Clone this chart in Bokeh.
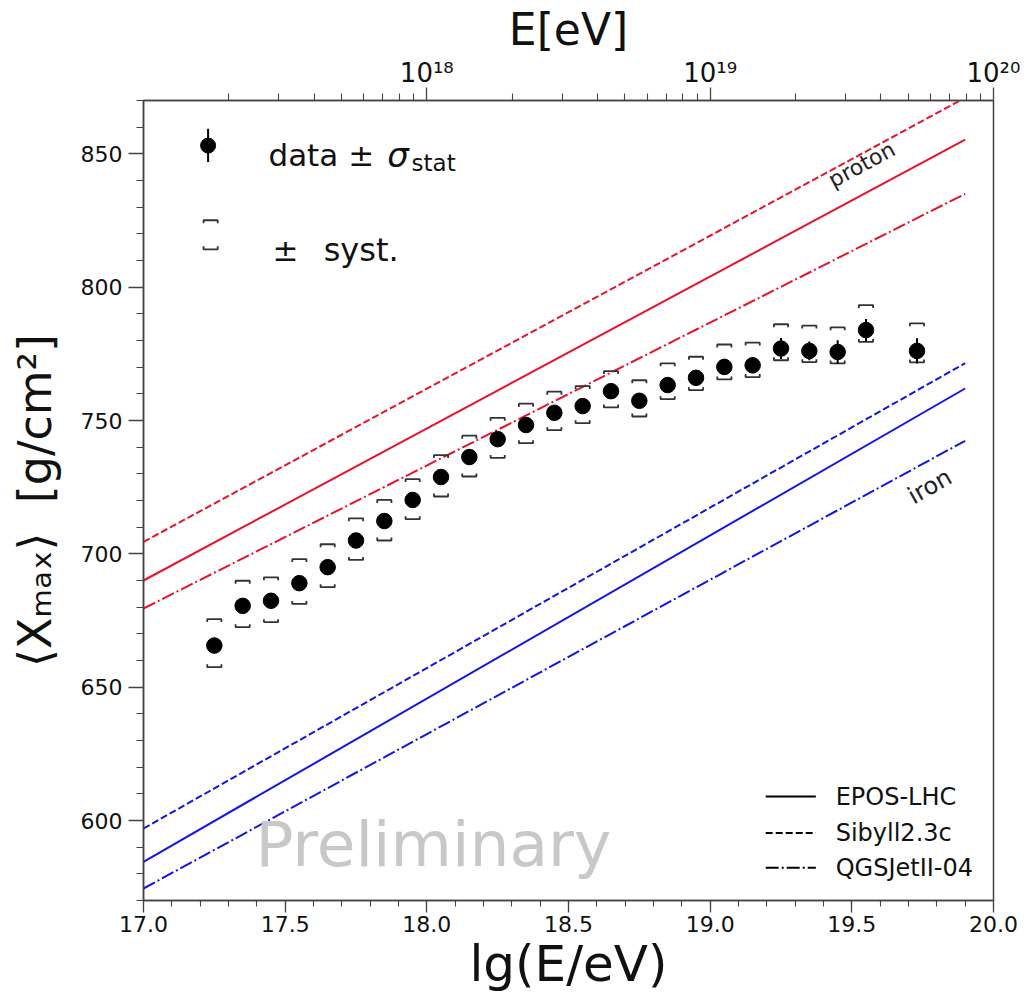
import math
from bokeh.plotting import figure
from bokeh.models import LinearAxis, FixedTicker, PrintfTickFormatter, Range1d
from bokeh.embed import file_html
from bokeh.resources import INLINE
from bokeh.core.properties import value

FONT = "DejaVu Sans"

# ---------------- data ----------------
lgE = [17.25, 17.35, 17.45, 17.55, 17.65, 17.75, 17.85, 17.95, 18.05, 18.15,
       18.25, 18.35, 18.45, 18.55, 18.65, 18.75, 18.85, 18.95, 19.05, 19.15,
       19.25, 19.35, 19.45, 19.55, 19.73]
xmax = [665.6, 680.5, 682.4, 689.0, 695.0, 705.0, 712.3, 720.2, 728.8, 736.3,
        743.0, 748.3, 752.9, 755.4, 761.0, 757.4, 763.3, 766.0, 770.1, 770.7,
        777.0, 776.1, 775.7, 783.9, 776.1]
stat = [1.5, 1.3, 1.3, 1.3, 1.4, 1.4, 1.5, 1.6, 1.7, 1.8,
        1.9, 2.0, 2.1, 2.2, 2.3, 2.5, 2.6, 2.8, 3.0, 3.0,
        3.9, 3.5, 4.4, 4.2, 4.7]
syst_hi = [675.5, 689.9, 691.2, 698.0, 703.6, 713.3, 720.2, 728.0, 737.0, 744.3,
           751.0, 756.3, 760.8, 762.9, 768.5, 765.1, 771.4, 773.9, 778.5, 779.2,
           786.1, 785.6, 784.9, 793.3, 786.4]
syst_lo = [657.5, 672.5, 674.4, 681.2, 687.5, 697.7, 705.0, 713.0, 721.5, 729.0,
           736.0, 741.5, 746.4, 749.0, 754.9, 751.5, 758.0, 761.4, 765.4, 766.3,
           772.6, 771.9, 771.4, 779.5, 771.8]

model_lgE = [17.0, 19.9]
proton_epos = [690.0, 855.3]
proton_sibyll = [704.5, 871.0]
proton_qgsjet = [679.5, 835.0]
iron_epos = [584.5, 762.0]
iron_sibyll = [597.0, 771.5]
iron_qgsjet = [574.5, 742.4]

model_names = ["EPOS-LHC", "Sibyll2.3c", "QGSJetII-04"]

x_ticks = [17.0, 17.5, 18.0, 18.5, 19.0, 19.5, 20.0]
y_ticks = [600, 650, 700, 750, 800, 850]
top_ticks = [18, 19, 20]
top_labels = ["10\u00b9\u2078", "10\u00b9\u2079", "10\u00b2\u2070"]

# ---------------- styles ----------------
RED = "#e8122c"
BLUE = "#1414e6"
SOLID = "solid"
DASH = "7 3"
DASHDOT = "13 3 2 3"
AX = "#444444"

p = figure(frame_width=850, frame_height=800, x_range=Range1d(17.0, 20.0), y_range=Range1d(570, 870),
           output_backend="svg", toolbar_location=None,
           min_border_left=143, min_border_right=29, min_border_top=100, min_border_bottom=100)
p.grid.visible = False
p.outline_line_color = AX
p.outline_line_width = 1.5
p.background_fill_color = "white"
p.border_fill_color = "white"


def style_axis(ax, label_size):
    ax.axis_line_color = AX
    ax.axis_line_width = 1.5
    ax.major_tick_line_color = AX
    ax.minor_tick_line_color = AX
    ax.major_tick_line_width = 1.3
    ax.minor_tick_line_width = 1.1
    ax.major_tick_out = 12
    ax.major_tick_in = 0
    ax.minor_tick_out = 6
    ax.minor_tick_in = 0
    ax.major_label_text_font = FONT
    ax.major_label_text_font_size = "22px"
    ax.major_label_text_color = "#111111"
    ax.axis_label_text_font = FONT
    ax.axis_label_text_font_size = label_size
    ax.axis_label_text_font_style = "normal"
    ax.axis_label_text_color = "#111111"


xa = p.xaxis[0]
xa.ticker = FixedTicker(ticks=x_ticks, minor_ticks=[round(17.0 + 0.1 * i, 1) for i in range(31)])
xa.formatter = PrintfTickFormatter(format="%.1f")
xa.axis_label = "lg(E/eV)"
style_axis(xa, "50px")
xa.major_label_standoff = 3
xa.axis_label_standoff = 0

ya = p.yaxis[0]
ya.ticker = FixedTicker(ticks=y_ticks, minor_ticks=list(range(570, 871, 10)))
ya.axis_label = "\u27e8X\u2098\u2090\u2093\u27e9\u00a0\u00a0[g/cm\u00b2]"
style_axis(ya, "46px")
ya.major_tick_out = 15
ya.minor_tick_out = 7
ya.major_label_standoff = 6
ya.axis_label_standoff = 16

top_minor = []
for dec in (17, 18, 19):
    top_minor += [dec + math.log10(k) for k in range(2, 10)]
ta = LinearAxis(ticker=FixedTicker(ticks=top_ticks, minor_ticks=top_minor),
                major_label_overrides={t: l for t, l in zip(top_ticks, top_labels)},
                axis_label="E[eV]")
style_axis(ta, "44px")
ta.major_tick_out = 13
ta.minor_tick_out = 7
ta.major_label_text_font_size = "26px"
ta.major_label_standoff = 0
ta.axis_label_standoff = 0
p.add_layout(ta, "above")

# ---------------- model lines ----------------
for ys, dash in ((proton_sibyll, DASH), (proton_epos, SOLID), (proton_qgsjet, DASHDOT)):
    p.line(model_lgE, ys, line_color=RED, line_width=2, line_dash=dash)
for ys, dash in ((iron_sibyll, DASH), (iron_epos, SOLID), (iron_qgsjet, DASHDOT)):
    p.line(model_lgE, ys, line_color=BLUE, line_width=2, line_dash=dash)

p.text(x=[19.535], y=[846.0], text=["proton"], angle=math.radians(28.3),
       text_font=value(FONT), text_font_size="22px", text_color="#222222",
       text_align="center", text_baseline="middle")
p.text(x=[19.775], y=[725.3], text=["iron"], angle=math.radians(29.5),
       text_font=value(FONT), text_font_size="24px", text_color="#222222",
       text_align="center", text_baseline="middle")

# ---------------- systematic brackets ----------------
w = 0.025
t = 1.1
xs_top, ys_top, xs_bot, ys_bot = [], [], [], []
for x, hi, lo in zip(lgE, syst_hi, syst_lo):
    xs_top.append([x - w, x - w, x + w, x + w])
    ys_top.append([hi - t, hi, hi, hi - t])
    xs_bot.append([x - w, x - w, x + w, x + w])
    ys_bot.append([lo + t, lo, lo, lo + t])
p.multi_line(xs_top, ys_top, line_color="#333333", line_width=1.8)
p.multi_line(xs_bot, ys_bot, line_color="#333333", line_width=1.8)

# ---------------- data points ----------------
p.segment(x0=lgE, y0=[y - s for y, s in zip(xmax, stat)],
          x1=lgE, y1=[y + s for y, s in zip(xmax, stat)],
          line_color="black", line_width=2)
p.scatter(lgE, xmax, size=15.5, fill_color="black", line_color="black")

# ---------------- top-left legend ----------------
p.segment(x0=[17.228], y0=[846.9], x1=[17.228], y1=[859.4], line_color="black", line_width=2)
p.scatter([17.228], [853.1], size=15, fill_color="black", line_color="black")
p.text(x=[17.441], y=[849.4], text=["data \u00b1"], text_font=value(FONT), text_font_size="31px",
       text_color="#111111", text_baseline="alphabetic")
p.text(x=[17.86], y=[849.4], text=["\u03c3"], text_font=value(FONT), text_font_size="34px",
       text_font_style="italic", text_color="#111111", text_baseline="alphabetic")
p.text(x=[17.946], y=[846.6], text=["stat"], text_font=value(FONT), text_font_size="23px",
       text_color="#111111", text_baseline="alphabetic")

lx = 17.237
p.multi_line([[lx - w, lx - w, lx + w, lx + w]], [[825.1 - t, 825.1, 825.1, 825.1 - t]],
             line_color="#333333", line_width=1.8)
p.multi_line([[lx - w, lx - w, lx + w, lx + w]], [[814.2 + t, 814.2, 814.2, 814.2 + t]],
             line_color="#333333", line_width=1.8)
p.text(x=[17.455], y=[813.8], text=["\u00b1"], text_font=value(FONT), text_font_size="31px",
       text_color="#111111", text_baseline="alphabetic")
p.text(x=[17.636], y=[813.8], text=["syst."], text_font=value(FONT), text_font_size="32px",
       text_color="#111111", text_baseline="alphabetic")

# ---------------- bottom-right legend ----------------
leg_y = [609.0, 595.3, 582.3]
for yy, dash, name in zip(leg_y, (SOLID, DASH, DASHDOT), model_names):
    p.line([19.196, 19.373], [yy, yy], line_color="black", line_width=2, line_dash=dash)
    p.text(x=[19.443], y=[yy], text=[name], text_font=value(FONT), text_font_size="24px",
           text_color="#111111", text_baseline="middle")

# ---------------- watermark ----------------
p.text(x=[17.395], y=[591.0], text=["Preliminary"], text_font=value(FONT), text_font_size="63px",
       text_color="#c8c8c8", text_baseline="middle")

open("out.html", "w").write(file_html(p, INLINE))
